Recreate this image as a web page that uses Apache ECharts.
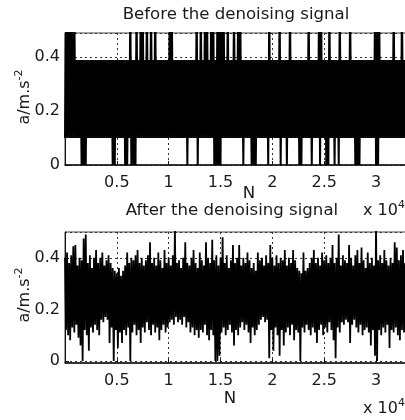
<!DOCTYPE html>
<html>
<head>
<meta charset="utf-8">
<script src="https://cdn.jsdelivr.net/npm/echarts@6/dist/echarts.min.js"></script>
<style>html,body{margin:0;padding:0;background:#fff}#c{width:405px;height:420px}</style>
</head>
<body>
<div id="c"></div>
<script>
// sample step (samples per point) and tick labels
var sampleStep = 100;
var xTicks = [0.5, 1, 1.5, 2, 2.5, 3];
var yTicks = [0, 0.2, 0.4];
var titleTop = 'Before the denoising signal';
var titleBottom = 'After the denoising signal';

// Before denoising (a/m.s^-2)
var beforeVals = [
0.1,0.6,0.1,0.6,0.1,0.6,0.1,0.6,0.1,0.6,
0.1,0.39,0.1,0.39,0.1,0.39,0,0.39,0,0.39,
0,0.39,0.1,0.39,0.1,0.39,0.1,0.39,0.1,0.39,
0.1,0.39,0.1,0.39,0.1,0.39,0.1,0.39,0.1,0.39,
0.1,0.39,0.1,0.39,0.1,0.39,0,0.39,0,0.39,
0.1,0.39,0.1,0.39,0.1,0.39,0.1,0.39,0,0.39,
0,0.39,0.1,0.6,0,0.39,0,0.39,0,0.6,
0.1,0.39,0.1,0.6,0.1,0.6,0.1,0.39,0.1,0.6,
0.1,0.39,0.1,0.6,0.1,0.39,0.1,0.6,0.1,0.39,
0.1,0.39,0.1,0.39,0.1,0.39,0.1,0.39,0.1,0.39,
0.1,0.6,0.1,0.6,0.1,0.39,0.1,0.39,0.1,0.39,
0.1,0.39,0.1,0.39,0.1,0.39,0.1,0.39,0,0.39,
0.1,0.39,0.1,0.39,0.1,0.39,0.1,0.6,0,0.39,
0.1,0.6,0.1,0.39,0.1,0.6,0.1,0.6,0.1,0.39,
0.1,0.6,0.1,0.6,0,0.39,0,0.6,0,0.6,
0,0.6,0.1,0.6,0.1,0.39,0.1,0.6,0.1,0.39,
0.1,0.39,0.1,0.6,0.1,0.39,0.1,0.6,0.1,0.6,
0.1,0.39,0,0.39,0.1,0.39,0.1,0.39,0.1,0.39,
0,0.39,0,0.39,0,0.39,0.1,0.39,0.1,0.39,
0.1,0.39,0.1,0.39,0.1,0.39,0,0.6,0.1,0.39,
0.1,0.39,0.1,0.39,0.1,0.39,0.1,0.6,0,0.39,
0.1,0.39,0.1,0.39,0,0.39,0.1,0.6,0.1,0.39,
0.1,0.39,0.1,0.39,0.1,0.39,0,0.39,0,0.39,
0.1,0.39,0.1,0.39,0.1,0.6,0.1,0.39,0,0.39,
0.1,0.39,0.1,0.39,0.1,0.6,0,0.6,0.1,0.39,
0.1,0.39,0,0.39,0,0.6,0.1,0.39,0.1,0.39,
0,0.39,0.1,0.39,0,0.6,0.1,0.39,0.1,0.39,
0.1,0.39,0.1,0.39,0.1,0.6,0.1,0.39,0.1,0.39,
0,0.39,0,0.39,0,0.39,0.1,0.39,0.1,0.39,
0.1,0.39,0.1,0.39,0.1,0.39,0.1,0.39,0.1,0.6,
0,0.6,0,0.6,0.1,0.39,0.1,0.39,0.1,0.39,
0.1,0.39,0.1,0.39,0.1,0.39,0.1,0.6,0.1,0.39,
0.1,0.39,0.1,0.39,0.1,0.6,0.1,0.39,0.1,0.39
];

// After denoising (a/m.s^-2)
var afterVals = [
0.40,0.12,0.42,0.10,0.38,0.08,0.41,0.13,0.445,0.11,
0.45,0.14,0.37,0.09,0.40,0.06,0.39,0.0,0.475,0.12,
0.49,0.10,0.38,0.04,0.41,0.13,0.36,0.11,0.40,0.14,
0.43,0.12,0.38,0.10,0.40,0.16,0.42,0.15,0.37,0.17,
0.39,0.16,0.41,0.07,0.38,0.13,0.36,0.0,0.35,0.12,
0.34,0.05,0.36,0.11,0.33,0.07,0.35,0.12,0.37,0.10,
0.42,0.13,0.38,0.0,0.40,0.11,0.39,0.14,0.41,0.10,
0.43,0.12,0.38,0.07,0.40,0.13,0.37,0.11,0.39,0.15,
0.41,0.12,0.46,0.10,0.38,0.14,0.40,0.11,0.37,0.13,
0.42,0.08,0.39,0.12,0.36,0.14,0.43,0.11,0.38,0.13,
0.40,0.15,0.37,0.16,0.41,0.14,0.51,0.17,0.38,0.15,
0.39,0.16,0.36,0.14,0.40,0.17,0.46,0.13,0.38,0.15,
0.37,0.11,0.40,0.13,0.43,0.10,0.38,0.12,0.36,0.09,
0.42,0.12,0.39,0.11,0.37,0.14,0.46,0.10,0.40,0.08,
0.38,0.12,0.47,0.10,0.39,0.0,0.41,0.0,0.37,0.02,
0.40,0.11,0.48,0.13,0.38,0.10,0.41,0.12,0.36,0.14,
0.39,0.11,0.45,0.06,0.38,0.12,0.40,0.10,0.45,0.13,
0.37,0.15,0.40,0.12,0.38,0.14,0.42,0.11,0.39,0.07,
0.36,0.13,0.38,0.10,0.35,0.12,0.42,0.14,0.39,0.16,
0.40,0.17,0.37,0.15,0.41,0.16,0.38,0.01,0.45,0.12,
0.40,0.04,0.37,0.13,0.41,0.10,0.38,0.02,0.40,0.12,
0.39,0.06,0.43,0.11,0.37,0.13,0.40,0.10,0.38,0.14,
0.43,0.08,0.39,0.12,0.36,0.11,0.35,0.0,0.34,0.13,
0.42,0.11,0.35,0.14,0.36,0.12,0.38,0.10,0.40,0.13,
0.43,0.11,0.38,0.07,0.40,0.12,0.37,0.14,0.42,0.10,
0.39,0.13,0.41,0.11,0.38,0.15,0.40,0.12,0.45,0.08,
0.38,0.01,0.40,0.13,0.49,0.11,0.37,0.15,0.41,0.14,
0.39,0.16,0.38,0.15,0.45,0.07,0.40,0.14,0.37,0.16,
0.41,0.13,0.43,0.11,0.38,0.14,0.44,0.10,0.39,0.12,
0.36,0.13,0.42,0.11,0.38,0.06,0.40,0.12,0.37,0.02,
0.53,0.0,0.39,0.12,0.41,0.10,0.38,0.13,0.43,0.11,
0.39,0.14,0.37,0.05,0.40,0.12,0.38,0.11,0.46,0.13,
0.44,0.10,0.39,0.08,0.41,0.12,0.43,0.11,0.38,0.13
];

function toPairs(vals){ return vals.map(function(v,i){ return [i*sampleStep, v]; }); }

var FONT = 'DejaVu Sans';
var TXT = '#1a1a1a';
var gridW = 366;
var xMax = 35300;

function xAxisDef(idx){
  return {
    type:'value', gridIndex: idx, min:0, max:xMax, interval:5000,
    axisLine:{show:true, onZero:false, lineStyle:{color:'#111', width:1.5}},
    axisTick:{show:true, inside:true, length:4, lineStyle:{color:'#111'}},
    splitLine:{show:true, lineStyle:{color:'#333', type:[2,3], width:1}},
    axisLabel:{show:true, margin:10, fontFamily:FONT, fontSize:16, color:TXT,
      showMinLabel:false, showMaxLabel:false,
      formatter:function(v){ var t=v/10000; return xTicks.indexOf(t)>=0 ? String(t) : ''; }}
  };
}

var chart = echarts.init(document.getElementById('c'), null, {renderer:'canvas'});
chart.setOption({
  animation:false,
  backgroundColor:'#fff',
  grid:[
    {left:65, top:33, width:gridW, height:132, show:true, borderColor:'#444', borderWidth:1, containLabel:false, outerBoundsMode:'none'},
    {left:65, top:232, width:gridW, height:131, show:true, borderColor:'#444', borderWidth:1, containLabel:false, outerBoundsMode:'none'},
    {left:65, top:232, width:gridW, height:129, show:false, containLabel:false, outerBoundsMode:'none'}
  ],
  xAxis:[
    xAxisDef(0),
    xAxisDef(1),
    {type:'value', gridIndex:2, min:0, max:xMax, show:false}
  ],
  yAxis:[
    {type:'value', gridIndex:0, min:0, max:0.49, interval:0.2,
     axisLine:{show:true, lineStyle:{color:'#111', width:1}},
     axisTick:{show:true, inside:true, length:4, lineStyle:{color:'#111'}},
     splitLine:{show:true, lineStyle:{color:'#333', type:[2,3], width:1}},
     axisLabel:{show:true, margin:5, fontFamily:FONT, fontSize:16, color:TXT, showMaxLabel:false,
       formatter:function(v){ return yTicks.indexOf(Math.round(v*10)/10)>=0 ? String(Math.round(v*10)/10) : ''; }}},
    {type:'value', gridIndex:1, min:-0.008, max:0.5,
     axisLine:{show:true, lineStyle:{color:'#111', width:1}},
     axisTick:{show:false}, splitLine:{show:false}, axisLabel:{show:false}},
    {type:'value', gridIndex:2, min:0, max:0.5, interval:0.2,
     axisLine:{show:false},
     axisTick:{show:true, inside:true, length:4, lineStyle:{color:'#111'}},
     splitLine:{show:true, lineStyle:{color:'#333', type:[2,3], width:1}},
     axisLabel:{show:true, margin:5, fontFamily:FONT, fontSize:16, color:TXT, showMaxLabel:false,
       formatter:function(v){ return yTicks.indexOf(Math.round(v*10)/10)>=0 ? String(Math.round(v*10)/10) : ''; }}}
  ],
  series:[
    {type:'line', xAxisIndex:0, yAxisIndex:0, data:toPairs(beforeVals), symbol:'none', showSymbol:false,
     clip:true, lineStyle:{color:'#000', width:2}, z:3},
    {type:'line', xAxisIndex:1, yAxisIndex:1, data:toPairs(afterVals), symbol:'none', showSymbol:false,
     clip:true, lineStyle:{color:'#000', width:1.8}, z:3},
    {type:'line', xAxisIndex:2, yAxisIndex:2, data:[], symbol:'none'}
  ],
  graphic:[
    {type:'text', x:236, y:15, style:{text:titleTop, font:'16.6px "DejaVu Sans"', fill:TXT, align:'center', verticalAlign:'middle'}},
    {type:'text', x:232, y:211, style:{text:titleBottom, font:'16.6px "DejaVu Sans"', fill:TXT, align:'center', verticalAlign:'middle'}},
    {type:'text', x:249, y:194, style:{text:'N', font:'16.6px "DejaVu Sans"', fill:TXT, align:'center', verticalAlign:'middle'}},
    {type:'text', x:230, y:399, style:{text:'N', font:'16.6px "DejaVu Sans"', fill:TXT, align:'center', verticalAlign:'middle'}},
    {type:'text', x:363, y:211, style:{text:'x 10{s|4}', fill:TXT, align:'left', verticalAlign:'middle',
      fontFamily:FONT, fontSize:16,
      rich:{s:{fontFamily:FONT, fontSize:11, fill:TXT, padding:[0,0,12,0]}}}},
    {type:'text', x:363, y:409, style:{text:'x 10{s|4}', fill:TXT, align:'left', verticalAlign:'middle',
      fontFamily:FONT, fontSize:16,
      rich:{s:{fontFamily:FONT, fontSize:11, fill:TXT, padding:[0,0,12,0]}}}},
    {type:'text', x:25, y:97, rotation:Math.PI/2, style:{text:'a/m.s{s|-2}', fill:TXT, align:'center', verticalAlign:'middle',
      fontFamily:FONT, fontSize:16,
      rich:{s:{fontFamily:FONT, fontSize:11, fill:TXT, padding:[0,0,12,0]}}}},
    {type:'text', x:25, y:295, rotation:Math.PI/2, style:{text:'a/m.s{s|-2}', fill:TXT, align:'center', verticalAlign:'middle',
      fontFamily:FONT, fontSize:16,
      rich:{s:{fontFamily:FONT, fontSize:11, fill:TXT, padding:[0,0,12,0]}}}}
  ]
});
</script>
</body>
</html>
